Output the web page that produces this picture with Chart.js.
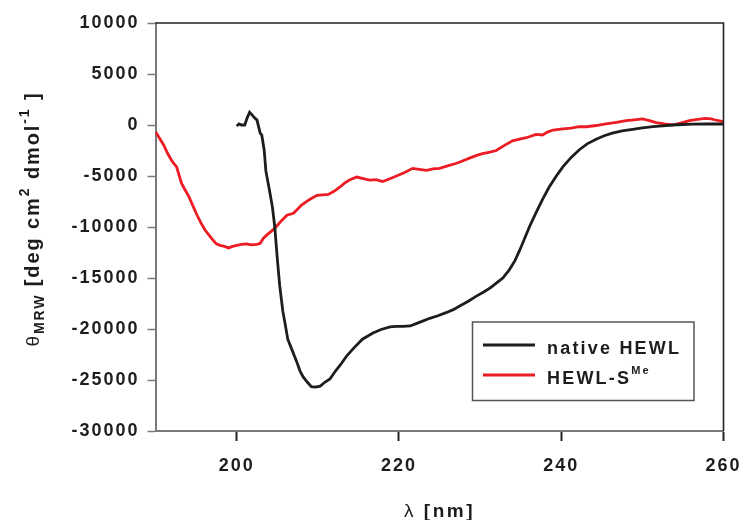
<!DOCTYPE html>
<html>
<head>
<meta charset="utf-8">
<script src="https://cdn.jsdelivr.net/npm/chart.js@4.4.1/dist/chart.umd.min.js"></script>
<style>
  html, body { margin: 0; padding: 0; background: #ffffff; }
  canvas { display: block; }
</style>
</head>
<body>
<canvas id="cd" width="741" height="520"></canvas>
<script>
// Wavelength grid (nm) and mean residue ellipticity for each protein form
const nativeNm = [200.0, 200.3, 200.6, 201.0, 201.3, 201.6, 201.9, 202.2, 202.5, 202.9,
  203.1, 203.4, 203.6, 204.0, 204.4, 204.7, 205.0, 205.3, 205.7, 206.0,
  206.3, 206.7, 207.0, 207.4, 207.8, 208.2, 208.7, 209.2, 209.7, 210.3,
  210.9, 211.5, 212.2, 212.8, 213.6, 214.4, 215.5, 216.8, 217.8, 218.9,
  219.7, 220.5, 221.4, 222.2, 223.0, 223.8, 224.8, 225.8, 226.7, 227.6,
  228.6, 229.5, 230.5, 231.3, 232.0, 232.8, 233.6, 234.3, 234.9, 235.5,
  236.1, 236.9, 237.7, 238.5, 239.4, 240.2, 241.2, 242.2, 243.2, 244.3,
  245.3, 246.3, 247.5, 248.8, 250.0, 251.3, 252.5, 253.7, 255.0, 256.2,
  258.0, 260.0];
const nativeTheta = [-100, 100, 0, 0, 700, 1250, 1000, 700, 500, -800,
  -1000, -2500, -4500, -6200, -8000, -10000, -13000, -15700, -18300, -19600,
  -21000, -21800, -22400, -23200, -24100, -24700, -25200, -25650, -25700, -25600,
  -25200, -24900, -24100, -23500, -22600, -21900, -21000, -20400, -20050, -19800,
  -19750, -19750, -19700, -19450, -19200, -18950, -18700, -18400, -18100, -17700,
  -17250, -16800, -16350, -15950, -15500, -15000, -14200, -13300, -12250, -11100,
  -9950, -8600, -7300, -6100, -5000, -4100, -3200, -2450, -1850, -1400,
  -1050, -800, -580, -420, -290, -170, -80, 0, 50, 80,
  100, 100];

const smeNm = [190.0, 190.5, 191.0, 191.5, 192.0, 192.3, 192.6, 192.9, 193.2, 193.6,
  194.1, 194.6, 195.1, 195.6, 196.1, 196.6, 197.1, 197.5, 197.95, 198.5,
  199.0, 199.5, 200.0, 200.6, 201.2, 201.8, 202.5, 202.9, 203.3, 203.7,
  204.3, 204.9, 205.5, 206.2, 207.0, 207.5, 208.0, 209.0, 209.9, 210.6,
  211.3, 212.0, 212.7, 213.3, 213.9, 214.8, 215.6, 216.4, 217.2, 218.0,
  218.8, 219.7, 220.7, 221.7, 222.5, 223.4, 224.2, 225.0, 226.0, 227.1,
  227.9, 228.7, 229.5, 230.3, 231.2, 232.0, 233.0, 234.0, 235.0, 235.7,
  236.9, 237.7, 238.3, 239.0, 240.2, 241.2, 242.2, 243.1, 244.3, 245.5,
  246.8, 248.0, 249.0, 250.0, 251.0, 251.7, 252.7, 253.7, 254.8, 255.8,
  256.8, 257.8, 258.5, 259.0, 260.0];
const smeTheta = [-650, -1300, -1960, -2800, -3500, -3800, -4100, -4900, -5700, -6300,
  -7000, -7900, -8800, -9600, -10300, -10800, -11300, -11650, -11800, -11900,
  -12050, -11900, -11800, -11700, -11650, -11750, -11700, -11600, -11100, -10800,
  -10400, -9950, -9400, -8850, -8650, -8250, -7850, -7300, -6900, -6850,
  -6800, -6500, -6100, -5700, -5400, -5100, -5250, -5400, -5350, -5550,
  -5300, -5000, -4650, -4250, -4350, -4450, -4300, -4250, -4000, -3750,
  -3500, -3250, -3000, -2800, -2650, -2500, -2000, -1550, -1350, -1250,
  -920, -980, -700, -490, -380, -300, -170, -170, -50, 100,
  250, 420, 500, 590, 400, 230, 100, 0, 200, 420,
  550, 650, 600, 490, 330];

const seriesNames = ['native HEWL', 'HEWL-S'];
const seriesSup = ['', 'Me'];
const xTickValues = [200, 220, 240, 260];

const INK = '#1d1d1b';
const RED = '#ec1c24';
const AXIS_GREY = '#7a7a7a';
const FONT = '"Liberation Sans", Arial, sans-serif';

function toPoints(xs, ys) {
  return xs.map((x, i) => ({ x: x, y: ys[i] }));
}

// draws a run of text pieces (with sub/superscripts) starting at x, baseline y
function drawRich(ctx, pieces, x, y) {
  let cx = x;
  pieces.forEach(p => {
    ctx.font = p.font;
    ctx.fillText(p.t, cx, y + (p.dy || 0));
    cx += ctx.measureText(p.t).width;
  });
  return cx - x;
}
function richWidth(ctx, pieces) {
  let w = 0;
  pieces.forEach(p => { ctx.font = p.font; w += ctx.measureText(p.t).width; });
  return w;
}

const spacingPlugin = {
  id: 'letterSpacing',
  beforeDraw(chart) {
    chart.ctx.letterSpacing = '2px';
  }
};

const decorPlugin = {
  id: 'decor',
  afterDraw(chart) {
    const ctx = chart.ctx;
    const a = chart.chartArea;
    ctx.save();

    // top and right frame lines
    ctx.strokeStyle = '#222222';
    ctx.lineWidth = 1.6;
    ctx.beginPath();
    ctx.moveTo(a.left, a.top);
    ctx.lineTo(a.right, a.top);
    ctx.lineTo(a.right, a.bottom);
    ctx.stroke();

    ctx.fillStyle = INK;
    ctx.textBaseline = 'alphabetic';

    // x axis title
    ctx.letterSpacing = '2.5px';
    const xTitle = [
      { t: 'λ', font: '19px ' + FONT },
      { t: ' [nm]', font: 'bold 19px ' + FONT }
    ];
    const xw = richWidth(ctx, xTitle);
    drawRich(ctx, xTitle, (a.left + a.right) / 2 - xw / 2, 517);

    // y axis title, rotated
    ctx.letterSpacing = '1.9px';
    const yTitle = [
      { t: 'θ', font: '19px ' + FONT },
      { t: 'MRW', font: 'bold 14px ' + FONT, dy: 5 },
      { t: ' [deg cm', font: 'bold 20px ' + FONT },
      { t: '2', font: 'bold 14px ' + FONT, dy: -10 },
      { t: ' dmol', font: 'bold 20px ' + FONT },
      { t: '-1', font: 'bold 14px ' + FONT, dy: -10 },
      { t: ' ]', font: 'bold 20px ' + FONT }
    ];
    const yw = richWidth(ctx, yTitle);
    ctx.save();
    ctx.translate(39, 219);
    ctx.rotate(-Math.PI / 2);
    drawRich(ctx, yTitle, -yw / 2, 0);
    ctx.restore();

    // legend box
    const bx = 472.5, by = 322, bw = 221.5, bh = 78.5;
    ctx.fillStyle = '#ffffff';
    ctx.fillRect(bx, by, bw, bh);
    ctx.strokeStyle = '#555555';
    ctx.lineWidth = 1.5;
    ctx.strokeRect(bx, by, bw, bh);

    const colors = [INK, RED];
    const rows = [345, 375];
    const baselines = [354, 383.5];
    ctx.letterSpacing = '2.2px';
    seriesNames.forEach((name, i) => {
      ctx.strokeStyle = colors[i];
      ctx.lineWidth = 3;
      ctx.beginPath();
      ctx.moveTo(483, rows[i]);
      ctx.lineTo(535, rows[i]);
      ctx.stroke();
      ctx.fillStyle = INK;
      const pieces = [{ t: name, font: 'bold 18px ' + FONT }];
      if (seriesSup[i]) pieces.push({ t: seriesSup[i], font: 'bold 11px ' + FONT, dy: -10 });
      drawRich(ctx, pieces, 547, baselines[i]);
    });

    ctx.restore();
  }
};

new Chart(document.getElementById('cd'), {
  type: 'line',
  data: {
    datasets: [
      {
        label: seriesNames[0],
        data: toPoints(nativeNm, nativeTheta),
        borderColor: INK,
        borderWidth: 2.8,
        pointRadius: 0,
        tension: 0,
        fill: false
      },
      {
        label: seriesNames[1] + seriesSup[1],
        data: toPoints(smeNm, smeTheta),
        borderColor: RED,
        borderWidth: 2.8,
        pointRadius: 0,
        tension: 0,
        fill: false
      }
    ]
  },
  options: {
    responsive: false,
    animation: false,
    devicePixelRatio: 1,
    layout: { padding: { top: 23, right: 17.5, left: 0, bottom: 0 } },
    plugins: {
      legend: { display: false },
      tooltip: { enabled: false },
      title: { display: false }
    },
    scales: {
      x: {
        type: 'linear',
        min: 190,
        max: 260,
        afterBuildTicks(scale) {
          scale.ticks = xTickValues.map(v => ({ value: v }));
        },
        afterFit(scale) {
          scale.height = 89;
          scale.paddingLeft = 0;
          scale.paddingRight = 0;
        },
        grid: {
          display: true,
          drawOnChartArea: false,
          drawTicks: true,
          tickLength: 10,
          tickColor: '#222222',
          tickWidth: 2
        },
        border: { display: true, color: AXIS_GREY, width: 2 },
        ticks: {
          color: INK,
          font: { family: FONT, size: 18, weight: 'bold' },
          padding: 14,
          maxRotation: 0,
          autoSkip: false,
          callback: v => String(v)
        }
      },
      y: {
        type: 'linear',
        min: -30000,
        max: 10000,
        afterFit(scale) {
          scale.width = 155.5;
          scale.paddingTop = 0;
          scale.paddingBottom = 0;
        },
        grid: {
          display: true,
          drawOnChartArea: false,
          drawTicks: true,
          tickLength: 8,
          tickColor: AXIS_GREY,
          tickWidth: 1.5
        },
        border: { display: true, color: AXIS_GREY, width: 2 },
        ticks: {
          stepSize: 5000,
          color: INK,
          font: { family: FONT, size: 18, weight: 'bold' },
          padding: 8,
          autoSkip: false,
          callback: v => String(v)
        }
      }
    }
  },
  plugins: [spacingPlugin, decorPlugin]
});
</script>
</body>
</html>
